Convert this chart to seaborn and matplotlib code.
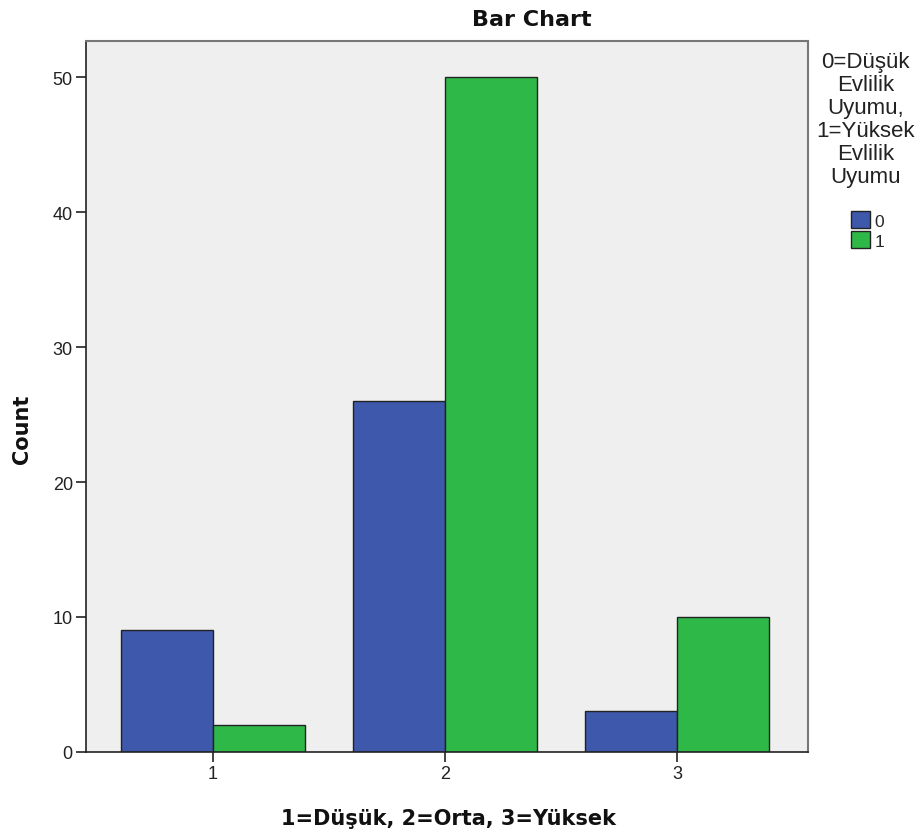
import pandas as pd
import matplotlib.pyplot as plt
import seaborn as sns
from matplotlib.patches import Patch

# Data
categories = ["1", "2", "3"]
counts_0 = [9, 26, 3]
counts_1 = [2, 50, 10]
groups = ["0", "1"]

df = pd.DataFrame({
    "category": categories * 2,
    "group": [groups[0]] * 3 + [groups[1]] * 3,
    "count": counts_0 + counts_1,
})

colors = {"0": "#3E58AC", "1": "#2EB848"}

sns.set_style("white")
plt.rcParams["font.family"] = ["Liberation Sans", "DejaVu Sans"]

fig = plt.figure(figsize=(9.23, 8.37), dpi=100)
ax = fig.add_axes([0.0932, 0.1004, 0.7822, 0.8494])
ax.set_facecolor("#EFEFEF")

sns.barplot(data=df, x="category", y="count", hue="group", palette=colors,
            width=0.793, edgecolor="#222222", linewidth=1, ax=ax,
            legend=False, saturation=1)

ax.set_xlim(-0.547, 2.565)
ax.set_ylim(0, 52.67)
ax.set_yticks([0, 10, 20, 30, 40, 50])
ax.set_xlabel("")
ax.set_ylabel("")
ax.tick_params(axis="both", direction="out", length=7.5, width=1.2,
               labelsize=13, colors="#222222", bottom=True, left=True, pad=2)

for side in ["left", "bottom"]:
    ax.spines[side].set_color("#222222")
    ax.spines[side].set_linewidth(1.2)
for side in ["top", "right"]:
    ax.spines[side].set_color("#777777")
    ax.spines[side].set_linewidth(1.5)

bold_font = ["DejaVu Sans"]
fig.text(0.576, 0.976, "Bar Chart", ha="center", va="center", family=bold_font,
         fontsize=16, fontweight="bold", color="#111111")
fig.text(0.486, 0.021, "1=Düşük, 2=Orta, 3=Yüksek", ha="center", va="center",
         family=bold_font, fontsize=15, fontweight="bold", color="#111111")
fig.text(0.024, 0.487, "Count", ha="center", va="center", rotation=90,
         family=bold_font, fontsize=15, fontweight="bold", color="#111111")

# Legend on the right
fig.text(0.938, 0.938, "0=Düşük\nEvlilik\nUyumu,\n1=Yüksek\nEvlilik\nUyumu",
         ha="center", va="top", fontsize=16, linespacing=1.13, color="#222222")
handles = [Patch(facecolor=colors[g], edgecolor="#222222", label=g) for g in groups]
fig.legend(handles=handles, loc="upper left", bbox_to_anchor=(0.913, 0.757),
           frameon=False, fontsize=12.5, handlelength=1.05, handleheight=1.15,
           handletextpad=0.3, labelspacing=0.15, borderpad=0)

fig.savefig("out.png", dpi=100)
